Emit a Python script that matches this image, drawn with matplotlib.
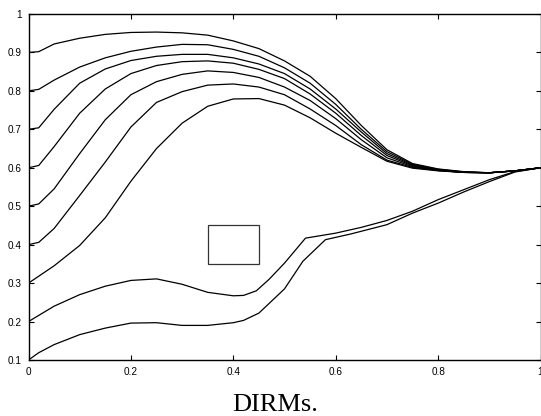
import matplotlib
matplotlib.use('Agg')
import matplotlib.pyplot as plt
from matplotlib.patches import Rectangle

# x samples shared by the seven upper curves
x_up = [0, 0.02, 0.05, 0.1, 0.15, 0.2, 0.25, 0.3, 0.35, 0.4, 0.45,
        0.5, 0.55, 0.6, 0.65, 0.7, 0.75, 0.8, 0.85, 0.9, 0.95, 1.0]

y09 = [0.9, 0.902, 0.922, 0.937, 0.947, 0.952, 0.953, 0.951, 0.945, 0.93, 0.91,
       0.878, 0.838, 0.78, 0.71, 0.647, 0.611, 0.597, 0.59, 0.587, 0.592, 0.6]
y08 = [0.8, 0.804, 0.828, 0.862, 0.886, 0.903, 0.914, 0.921, 0.92, 0.908, 0.89,
       0.86, 0.82, 0.765, 0.7, 0.642, 0.609, 0.596, 0.589, 0.587, 0.592, 0.6]
y07 = [0.7, 0.704, 0.752, 0.82, 0.857, 0.879, 0.89, 0.895, 0.895, 0.886, 0.87,
       0.845, 0.805, 0.753, 0.693, 0.637, 0.607, 0.595, 0.589, 0.587, 0.592, 0.6]
y06 = [0.6, 0.606, 0.655, 0.742, 0.805, 0.845, 0.866, 0.876, 0.878, 0.872, 0.856,
       0.832, 0.792, 0.742, 0.684, 0.632, 0.605, 0.594, 0.588, 0.587, 0.592, 0.6]
y05 = [0.5, 0.506, 0.545, 0.637, 0.725, 0.79, 0.824, 0.843, 0.852, 0.848, 0.835,
       0.81, 0.775, 0.728, 0.673, 0.626, 0.603, 0.593, 0.588, 0.587, 0.592, 0.6]
y04 = [0.4, 0.406, 0.442, 0.528, 0.615, 0.706, 0.77, 0.798, 0.815, 0.818, 0.81,
       0.79, 0.753, 0.71, 0.66, 0.62, 0.601, 0.593, 0.588, 0.587, 0.592, 0.6]
y03 = [0.3, 0.318, 0.345, 0.398, 0.47, 0.565, 0.65, 0.716, 0.76, 0.779, 0.78,
       0.763, 0.73, 0.69, 0.653, 0.617, 0.599, 0.592, 0.588, 0.587, 0.592, 0.6]
upper = [y09, y08, y07, y06, y05, y04, y03]

# the two lower curves (with kinks)
x02 = [0, 0.05, 0.1, 0.15, 0.2, 0.25, 0.3, 0.35, 0.4, 0.42, 0.445, 0.47, 0.5,
       0.541, 0.6, 0.65, 0.7, 0.75, 0.8, 0.85, 0.9, 0.95, 1.0]
y02 = [0.2, 0.24, 0.27, 0.292, 0.307, 0.311, 0.297, 0.276, 0.267, 0.268, 0.28, 0.31, 0.352,
       0.417, 0.43, 0.445, 0.463, 0.487, 0.517, 0.543, 0.569, 0.59, 0.6]
x01 = [0, 0.02, 0.05, 0.1, 0.15, 0.2, 0.25, 0.3, 0.35, 0.4, 0.42, 0.45, 0.5,
       0.536, 0.58, 0.63, 0.7, 0.75, 0.8, 0.85, 0.9, 0.95, 1.0]
y01 = [0.1, 0.119, 0.14, 0.166, 0.183, 0.196, 0.197, 0.19, 0.19, 0.197, 0.203, 0.222, 0.285,
       0.357, 0.413, 0.428, 0.452, 0.482, 0.508, 0.537, 0.564, 0.589, 0.6]

# rectangle corner and size
box = (0.35, 0.35, 0.1, 0.1)

xticks = [0, 0.2, 0.4, 0.6, 0.8, 1]
xlabs = ['0', '0.2', '0.4', '0.6', '0.8', '1']
yticks = [0.1, 0.2, 0.3, 0.4, 0.5, 0.6, 0.7, 0.8, 0.9, 1]
ylabs = ['0.1', '0.2', '0.3', '0.4', '0.5', '0.6', '0.7', '0.8', '0.9', '1']

fig = plt.figure(figsize=(5.41, 4.16), dpi=100)
ax = fig.add_axes([28.5 / 541, 56 / 416, 512 / 541, 346 / 416])

for y in upper:
    ax.plot(x_up, y, color='black', lw=0.9)
ax.plot(x02, y02, color='black', lw=0.9)
ax.plot(x01, y01, color='black', lw=0.9)

ax.add_patch(Rectangle(box[:2], box[2], box[3], fill=False,
                       edgecolor='#333333', lw=0.9))

ax.set_xlim(0, 1)
ax.set_ylim(0.1, 1)
ax.set_xticks(xticks, xlabs, fontsize=7.2, family='Liberation Sans')
ax.set_yticks(yticks, ylabs, fontsize=7.2, family='Liberation Sans')
ax.tick_params(direction='in', length=3.5, width=0.8, top=True, right=True, pad=5)
for s in ax.spines.values():
    s.set_linewidth(1.0)

fig.text(0.509, 0.012, 'DIRMs.', ha='center', va='baseline',
         fontsize=19, family='Liberation Serif')

fig.savefig('out.png', dpi=100)
